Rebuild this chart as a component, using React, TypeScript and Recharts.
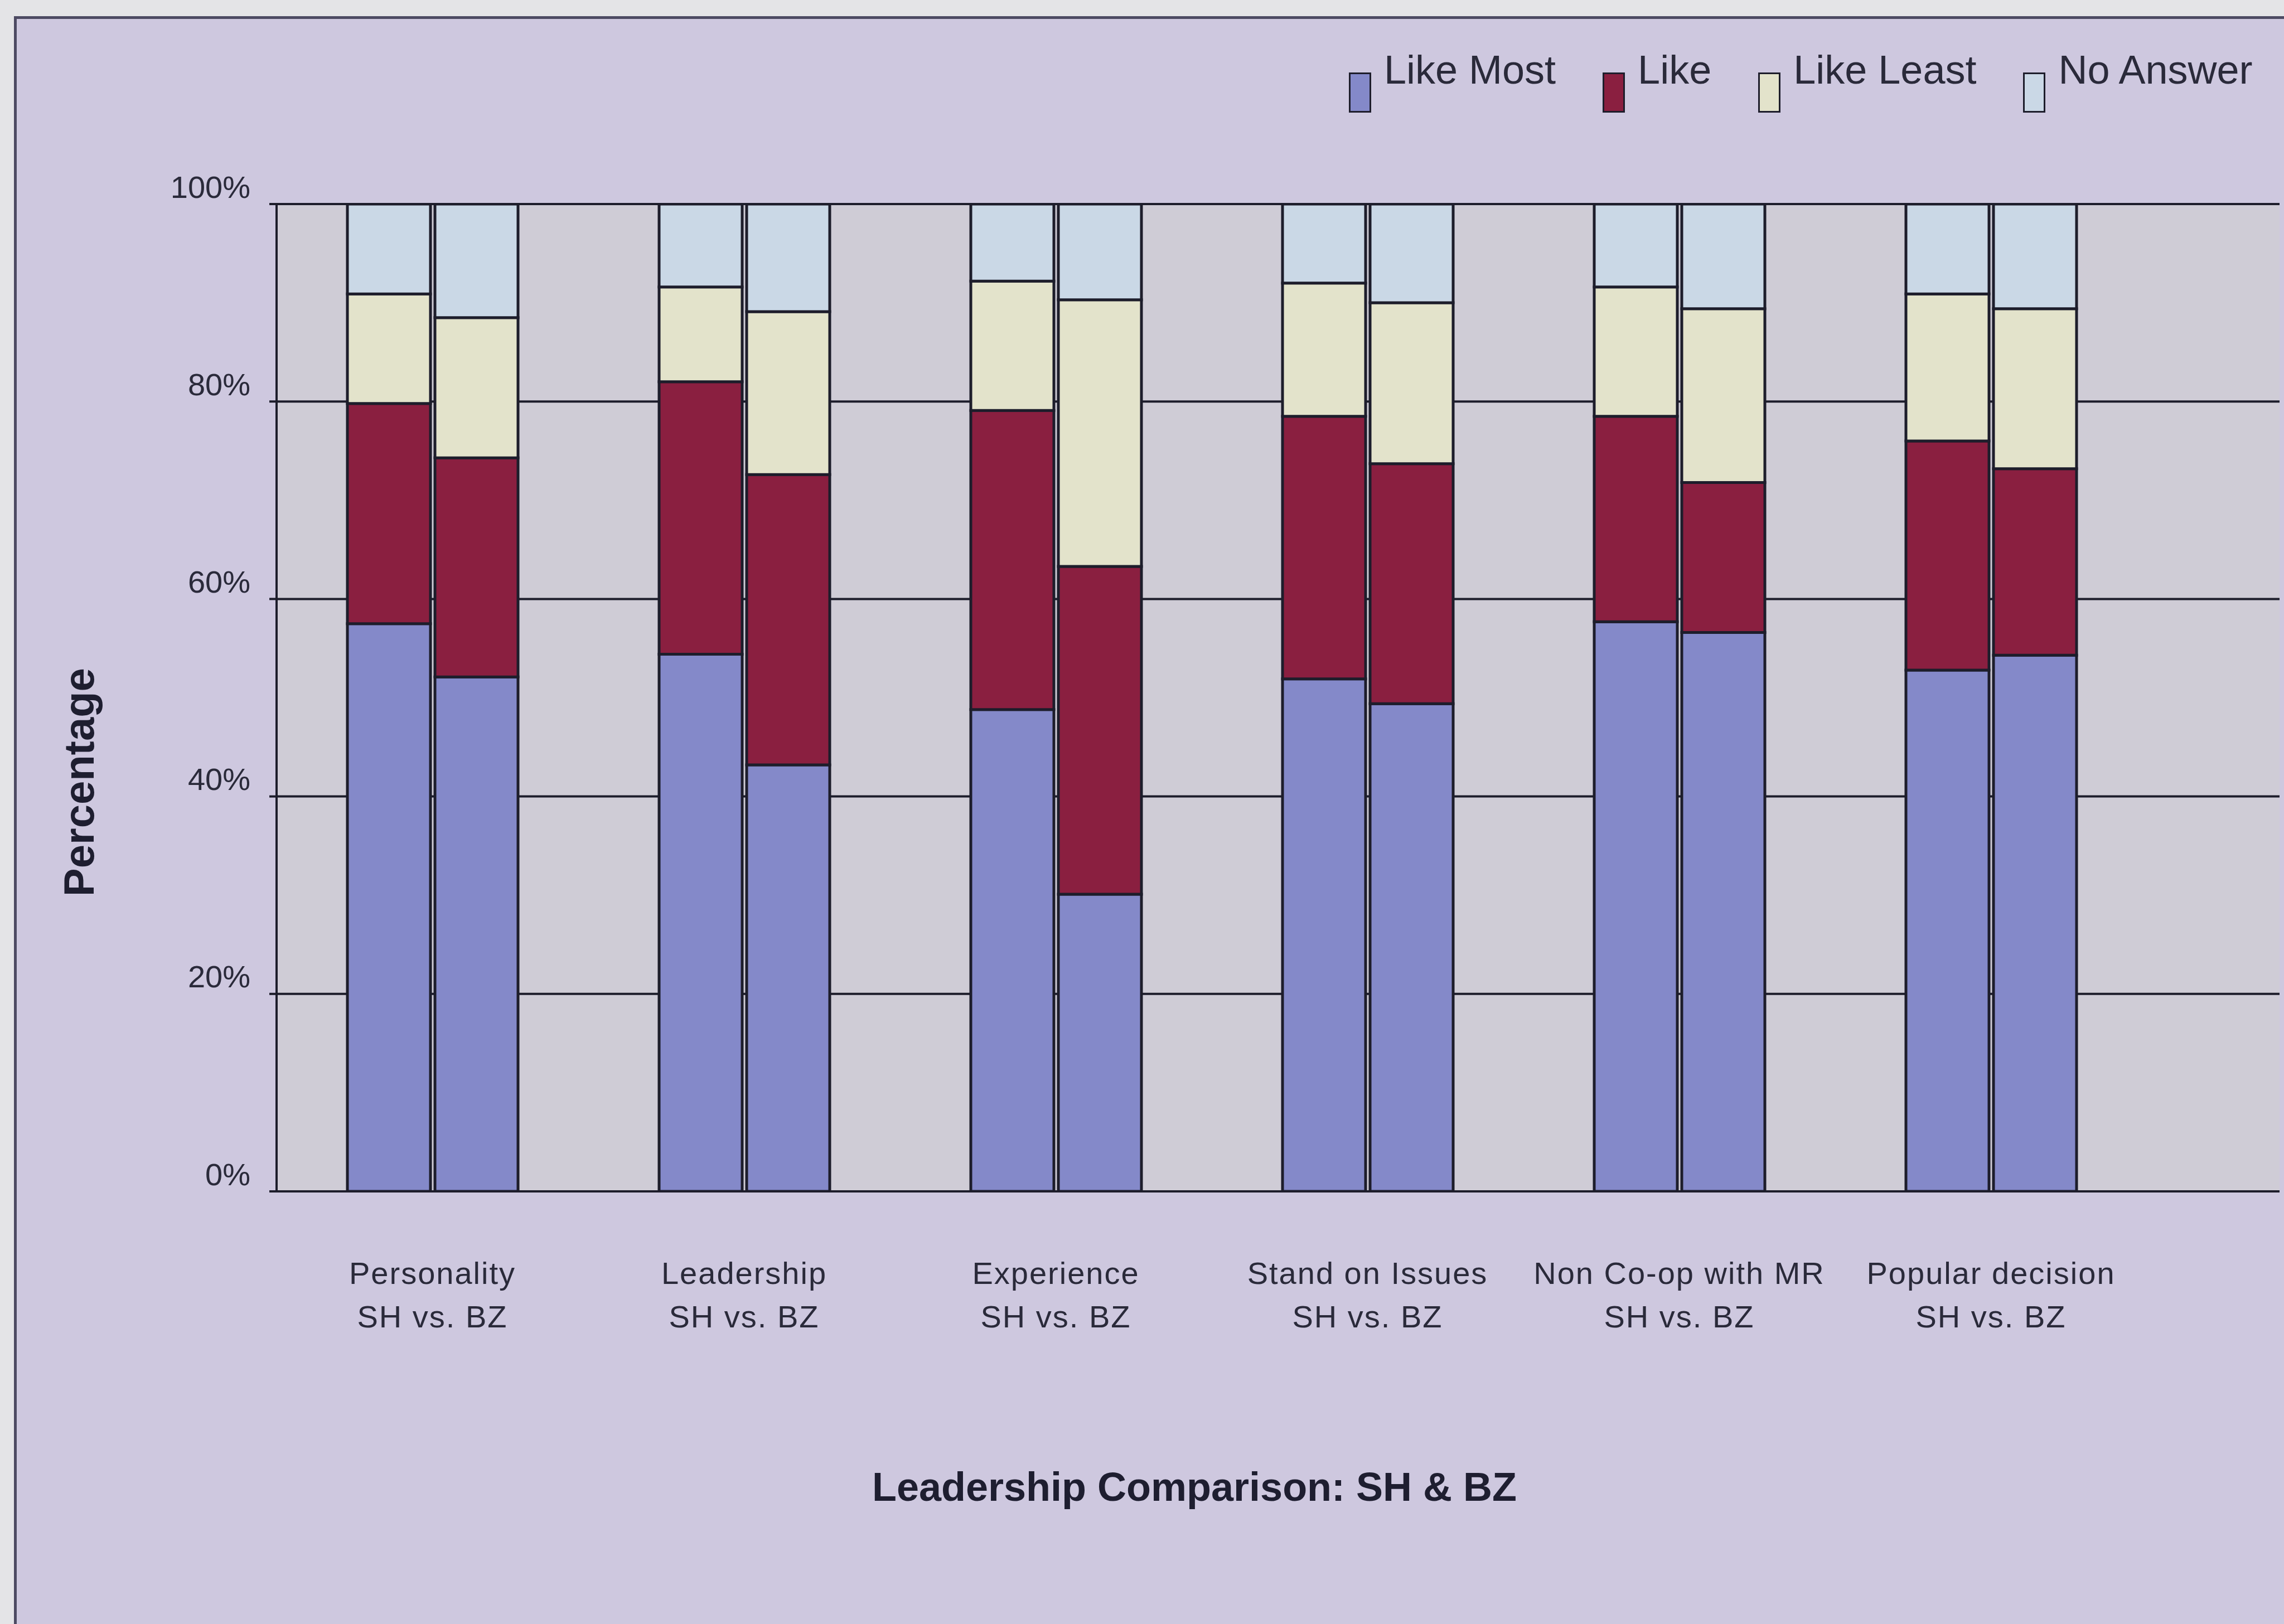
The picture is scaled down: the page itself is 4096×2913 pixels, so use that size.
import React from 'react';
import {
  BarChart,
  Bar,
  XAxis,
  YAxis,
  CartesianGrid,
  Legend,
} from 'recharts';

// survey categories, each compared SH vs. BZ
const categories = [
  'Personality',
  'Leadership',
  'Experience',
  'Stand on Issues',
  'Non Co-op with MR',
  'Popular decision',
];
const subLabel = 'SH vs. BZ';

// SH responses (%)
const shLikeMost = [57.5, 54.4, 48.8, 51.9, 57.7, 52.8];
const shLike = [22.3, 27.6, 30.3, 26.6, 20.8, 23.2];
const shLikeLeast = [11.1, 9.6, 13.1, 13.5, 13.1, 14.9];
const shNoAnswer = [9.1, 8.4, 7.8, 8.0, 8.4, 9.1];

// BZ responses (%)
const bzLikeMost = [52.1, 43.2, 30.1, 49.4, 56.6, 54.3];
const bzLike = [22.2, 29.4, 33.2, 24.3, 15.2, 18.9];
const bzLikeLeast = [14.2, 16.5, 27.0, 16.3, 17.6, 16.2];
const bzNoAnswer = [11.5, 10.9, 9.7, 10.0, 10.6, 10.6];

const yTicks = [0, 20, 40, 60, 80, 100];

const series = [
  { key: 'LikeMost', name: 'Like Most', color: '#8489C9' },
  { key: 'Like', name: 'Like', color: '#8A1F40' },
  { key: 'LikeLeast', name: 'Like Least', color: '#E3E3CB' },
  { key: 'NoAnswer', name: 'No Answer', color: '#CAD8E6' },
];

const data = categories.map((name, i) => ({
  name,
  shLikeMost: shLikeMost[i],
  shLike: shLike[i],
  shLikeLeast: shLikeLeast[i],
  shNoAnswer: shNoAnswer[i],
  bzLikeMost: bzLikeMost[i],
  bzLike: bzLike[i],
  bzLikeLeast: bzLikeLeast[i],
  bzNoAnswer: bzNoAnswer[i],
}));

const W = 4096;
const H = 2913;
const FONT = '"Liberation Sans", Arial, sans-serif';
const INK = '#1d1d2b';

const XTick = ({ x, y, payload }: any) => (
  <g transform={`translate(${x},${y})`}>
    <text textAnchor="middle" fontSize={56} fill="#2a2a3a" fontFamily={FONT} letterSpacing={2}>
      <tspan x={0} dy={166}>{payload.value}</tspan>
      <tspan x={0} dy={78}>{subLabel}</tspan>
    </text>
  </g>
);

const YTick = ({ x, y, payload }: any) => (
  <text
    x={x}
    y={y - 31}
    textAnchor="end"
    dominantBaseline="central"
    fontSize={56}
    fill="#2a2a3a"
    fontFamily={FONT}
  >
    {payload.value}%
  </text>
);

// one legend entry per response type (both stacks share the same colours)
const LegendContent = () => (
  <div style={{ display: 'flex', alignItems: 'flex-start', fontFamily: FONT }}>
    {series.map((s) => (
      <div key={s.key} style={{ display: 'flex', alignItems: 'flex-start', marginRight: 84 }}>
        <div
          style={{
            width: 34,
            height: 66,
            marginTop: 41,
            marginRight: 23,
            background: s.color,
            border: `3px solid ${INK}`,
          }}
        />
        <span style={{ fontSize: 72, lineHeight: '72px', color: '#2a2a3a', whiteSpace: 'nowrap' }}>
          {s.name}
        </span>
      </div>
    ))}
  </div>
);

export default function App() {
  return (
    <div
      style={{
        position: 'absolute',
        left: 0,
        top: 0,
        width: W,
        height: H,
        background: '#E4E4E7',
        overflow: 'hidden',
      }}
    >
      {/* chart frame */}
      <div
        style={{
          position: 'absolute',
          left: 25,
          top: 29,
          right: 0,
          bottom: 0,
          background: '#CEC8DF',
          borderTop: '5px solid #4D4A63',
          borderLeft: '5px solid #4D4A63',
        }}
      />
      <div style={{ position: 'absolute', left: 0, top: 0 }}>
        <BarChart
          width={W}
          height={H}
          data={data}
          margin={{ top: 366, right: 8, bottom: 0, left: 0 }}
          barSize={149}
          barGap={8}
        >
          <CartesianGrid
            horizontal
            vertical={false}
            fill="#CFCCD6"
            fillOpacity={1}
            stroke={INK}
            strokeWidth={4}
          />
          <XAxis
            dataKey="name"
            height={776}
            padding={{ left: 0, right: 238 }}
            tickLine={false}
            tickSize={0}
            tickMargin={0}
            axisLine={{ stroke: INK, strokeWidth: 4 }}
            tick={<XTick />}
            interval={0}
          />
          <YAxis
            width={496}
            domain={[0, 100]}
            ticks={yTicks}
            allowDataOverflow
            tickSize={13}
            tickMargin={34}
            tickLine={{ stroke: INK, strokeWidth: 4 }}
            axisLine={{ stroke: INK, strokeWidth: 4 }}
            tick={<YTick />}
          />
          <Legend
            layout="vertical"
            verticalAlign="middle"
            align="center"
            wrapperStyle={{ top: 89, left: 2419, width: 1670 }}
            content={<LegendContent />}
          />
          {series.map((s) => (
            <Bar
              key={`sh${s.key}`}
              dataKey={`sh${s.key}`}
              name={s.name}
              stackId="sh"
              fill={s.color}
              stroke={INK}
              strokeWidth={5}
              isAnimationActive={false}
            />
          ))}
          {series.map((s) => (
            <Bar
              key={`bz${s.key}`}
              dataKey={`bz${s.key}`}
              name={s.name}
              stackId="bz"
              fill={s.color}
              stroke={INK}
              strokeWidth={5}
              legendType="none"
              isAnimationActive={false}
            />
          ))}
        </BarChart>
      </div>
      {/* axis titles */}
      <div
        style={{
          position: 'absolute',
          left: 141,
          top: 1403,
          transform: 'translate(-50%, -50%) rotate(-90deg)',
          fontFamily: FONT,
          fontWeight: 'bold',
          fontSize: 76,
          color: '#1e1e30',
          whiteSpace: 'nowrap',
        }}
      >
        Percentage
      </div>
      <div
        style={{
          position: 'absolute',
          left: 2142,
          top: 2667,
          transform: 'translate(-50%, -50%)',
          fontFamily: FONT,
          fontWeight: 'bold',
          fontSize: 72,
          color: '#1e1e30',
          whiteSpace: 'nowrap',
        }}
      >
        Leadership Comparison: SH &amp; BZ
      </div>
    </div>
  );
}
